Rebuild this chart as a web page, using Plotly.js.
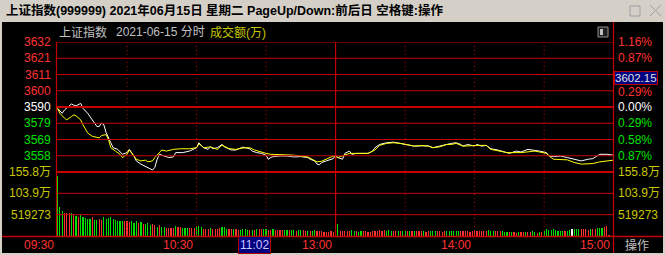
<!DOCTYPE html>
<html><head><meta charset="utf-8">
<script src="https://cdn.plot.ly/plotly-3.0.1.min.js"></script>
<style>html,body{margin:0;padding:0;background:#000;overflow:hidden}#c{width:665px;height:255px}</style>
</head><body><div id="c"></div><script>
// ---------- data ----------
const titleText = '上证指数(999999) 2021年06月15日 星期二 PageUp/Down:前后日 空格键:操作';
const indexName = '上证指数';
const dateLabel = '2021-06-15 分时';
const volTitle = '成交额(万)';
const prevClose = 3589.75;
const priceTop = 3632;
const priceTickLabels = ['3632','3621','3611','3600','3590','3579','3569','3558'];
const pctTickLabels = ['1.16%','0.87%','0.58%','0.29%','0.00%','0.29%','0.58%','0.87%'];
const volTickValues = [155.78, 103.85, 51.93];
const volTickLabels = ['155.8万','103.9万','519273'];
const timeLabels = ['09:30','10:30','13:00','14:00','15:00'];
const timeLabelMinutes = [0,60,120,180,240];
const cursorTimeLabel = '11:02';
const cursorMinute = 92;
const cursorPriceLabel = '3602.15';

// weighted index (white), minute index from 09:30 (afternoon continues after 120)
const priceMin = [0,2,3,6,7,8,10,11,13,14,16,17,18,19,20,21,23,24,26,27,28,30,31,33,34,36,37,38,40,41,
42,43,44,46,48,50,51,54,57,60,61,62,63,65,66,67,69,70,71,72,74,75,77,79,80,83,84,86,88,90,
91,92,93,96,99,102,105,108,109,111,112,113,114,116,119,120,121,123,124,126,127,129,132,134,136,137,139,142,145,148,
151,154,157,160,162,165,168,170,172,174,175,177,180,181,183,185,187,190,193,195,198,200,203,206,208,211,212,214,217,220,
223,226,229,231,234,237,240];
const priceVal = [3588.9,3585.7,3587.8,3591.7,3591.0,3590.4,3592.1,3588.9,3585.7,3583.5,
3579.3,3577.1,3577.1,3579.3,3578.2,3573.0,3566.5,3563.3,3562.2,3560.5,
3559.0,3560.1,3562.2,3557.9,3554.7,3552.6,3551.9,3551.1,3549.8,3548.8,
3550.5,3555.8,3559.0,3557.9,3556.9,3557.3,3560.1,3560.1,3561.1,3563.3,
3566.5,3564.8,3563.3,3562.2,3563.9,3562.6,3563.3,3564.3,3565.4,3563.9,
3562.2,3561.8,3561.8,3563.3,3563.7,3562.6,3561.1,3560.1,3559.6,3558.4,
3555.8,3556.9,3557.5,3557.9,3557.9,3557.3,3557.5,3556.9,3555.8,3554.7,
3552.6,3552.2,3553.7,3554.7,3556.2,3558.4,3556.9,3555.8,3559.6,3561.1,
3559.0,3559.6,3559.6,3559.6,3561.1,3563.3,3565.4,3566.5,3566.9,3566.1,
3565.4,3564.3,3564.5,3564.5,3563.3,3564.6,3565.4,3566.1,3566.5,3565.4,
3564.3,3565.4,3564.3,3565.4,3564.3,3564.8,3562.6,3561.8,3560.5,3559.6,
3561.1,3560.5,3562.2,3561.8,3561.1,3560.1,3557.9,3557.5,3557.9,3556.9,
3555.8,3554.7,3555.8,3556.2,3559.0,3559.0,3558.4];

// unweighted index (yellow)
const idxMin = [0,1,3,4,6,7,8,10,11,13,15,16,18,19,21,22,23,25,27,28,30,31,33,34,36,38,39,41,42,44,
45,47,50,53,57,60,61,62,63,66,69,71,74,77,80,83,85,90,92,96,102,108,112,114,119,121,124,126,129,134,
137,139,142,145,148,154,157,160,162,165,168,170,172,175,181,185,187,191,194,200,203,206,208,211,213,214,220,223,226,229,
231,234,237,240];
const idxVal = [3588.9,3585.7,3582.5,3581.4,3583.5,3584.6,3584.0,3581.4,3578.2,3572.9,
3570.7,3570.3,3569.7,3571.2,3571.8,3568.6,3563.3,3561.1,3559.0,3556.9,
3559.0,3561.8,3557.9,3555.8,3554.7,3555.2,3554.1,3554.7,3556.9,3560.1,
3561.8,3561.1,3562.2,3562.6,3562.6,3563.3,3565.8,3564.8,3563.3,3563.8,
3562.2,3565.0,3562.7,3562.2,3563.1,3563.3,3561.8,3559.6,3559.0,3558.8,
3558.4,3557.3,3554.1,3554.5,3557.9,3556.9,3558.4,3559.6,3559.6,3559.6,
3561.8,3564.8,3566.1,3566.5,3566.1,3564.3,3564.8,3564.3,3563.3,3563.9,
3565.4,3565.4,3566.1,3564.3,3564.8,3564.8,3562.2,3561.1,3560.1,3560.1,
3560.5,3561.1,3560.5,3559.6,3556.9,3555.8,3555.4,3553.7,3552.6,3553.0,
3553.0,3554.1,3554.7,3555.2];

// per-minute turnover (万), minutes 0..240
const volume = [146,71,62,57,57,57,56,51,49,47,
52,46,45,41,41,47,39,39,42,40,
47,42,45,47,42,40,37,36,36,37,
36,35,37,32,36,31,35,30,30,31,
27,29,27,23,28,23,21,19,19,19,
19,24,21,21,19,19,19,19,19,19,
23,24,21,16,16,16,19,16,16,16,
19,21,23,16,16,16,16,16,15,15,
16,16,15,15,15,15,16,16,16,16,
16,15,15,16,15,15,15,15,15,15,
15,15,15,13,15,15,15,13,13,13,
13,15,13,13,13,10,10,10,13,10,
10,29,12,12,12,12,12,15,12,12,
10,12,12,12,10,10,12,12,12,15,
13,15,12,15,12,12,12,12,12,12,
12,12,12,12,12,12,12,12,12,10,
12,12,12,12,12,12,10,12,12,12,
12,12,12,13,12,12,12,12,10,12,
12,12,12,12,12,12,15,12,12,12,
12,12,13,10.5,10.5,10.5,10.5,10.5,8,10.5,
10.5,10.5,10.5,10.5,10.5,13,10.5,8,10.5,10.5,
13,16,14.6,14.6,16,14.6,13,13,13,13,
13,14.6,16,16,16,16,16,16,16,14.6,
16,18,18,19.5,19.5,19.5,22.7,25,1.6,0,
47];
// minute move direction: 1 up, -1 down, 0 flat
const volDir = [-1,-1,-1,1,1,1,-1,1,-1,1,
-1,-1,-1,-1,-1,1,-1,-1,1,1,
-1,-1,-1,-1,-1,-1,-1,-1,-1,1,
1,1,-1,-1,-1,1,-1,1,-1,-1,
-1,1,1,-1,1,-1,-1,1,1,1,
1,-1,1,1,-1,-1,-1,1,1,1,
-1,-1,-1,1,1,1,-1,1,1,1,
1,-1,-1,-1,1,1,-1,1,1,-1,
-1,-1,-1,1,-1,1,-1,1,1,-1,
-1,1,1,-1,1,1,1,1,-1,-1,
1,-1,-1,1,-1,-1,1,1,-1,1,
-1,-1,1,1,1,1,1,1,1,1,
1,-1,1,1,1,1,1,-1,-1,1,
-1,-1,1,1,1,1,1,1,1,1,
1,1,-1,-1,-1,1,1,-1,1,-1,
-1,1,-1,1,-1,1,1,1,-1,1,
1,-1,-1,-1,1,1,1,1,-1,-1,
-1,-1,-1,-1,1,1,1,1,1,1,
1,1,1,1,1,1,-1,-1,-1,1,
1,1,-1,-1,-1,1,-1,1,1,-1,
1,1,-1,1,1,-1,-1,1,-1,1,
-1,-1,-1,-1,-1,-1,-1,-1,-1,1,
-1,-1,0,-1,-1,-1,1,1,1,1,
-1,1,1,-1,-1,-1,1,1,1,0,
0];

// ---------- styling / layout ----------
const W = 665, H = 255;
const px = v => v / W;
const py = v => 1 - v / H;
const RED = '#ff3232', GREEN = '#00e000', GRID = '#c80000', YEL = '#c8c800', GRAY = '#c0c0c0';
const FONT = 'Liberation Sans, Noto Sans CJK SC, sans-serif';
const step = (priceTop - prevClose) / 4;
const priceBottom = prevClose - 4 * step;
const volMax = volTickValues[0];
const minutes = volume.map((_, i) => i);
const barColors = volDir.map(d => d > 0 ? RED : (d < 0 ? GREEN : '#ffffff'));

const shapes = [];
const ann = [];
const hline = (yref, y, x0, x1, w, dash) => shapes.push({type:'line', xref:'paper', yref, x0:px(x0), x1:px(x1), y0:y, y1:y, line:{color:GRID, width:w, dash:dash||'solid'}});

// price grid
for (let k = 4; k >= -3; k--) {
  const lv = prevClose + k * step;
  hline('y', lv, 56, 613.5, k === 0 ? 2 : 1);
  const col = k > 0 ? RED : (k < 0 ? GREEN : '#ffffff');
  ann.push({xref:'paper', yref:'y', x:px(53), y:lv, xanchor:'right', yanchor:'middle', text:priceTickLabels[4-k], showarrow:false, font:{family:FONT, size:12, color:col}});
  // the right-hand 0.58% label is hidden under the cursor price box in the reference
  if (k !== 2) ann.push({xref:'paper', yref:'y', x:px(616), y:lv, xanchor:'left', yanchor:'middle', yshift:(k === 1 ? -1 : 0), text:pctTickLabels[4-k], showarrow:false, font:{family:FONT, size:12, color:col}});
}
// separator between price and volume
shapes.push({type:'line', xref:'paper', yref:'paper', x0:px(56), x1:px(613.5), y0:py(172), y1:py(172), line:{color:GRID, width:2}});
// volume grid
volTickValues.forEach((v, i) => {
  if (i > 0) hline('y2', v, 56, 613.5, 1);
  ann.push({xref:'paper', yref:'y2', x:px(53), y:v, xanchor:'right', yanchor:'middle', text:volTickLabels[i], showarrow:false, font:{family:FONT, size:12, color:YEL}});
  ann.push({xref:'paper', yref:'y2', x:px(616), y:v, xanchor:'left', yanchor:'middle', text:volTickLabels[i], showarrow:false, font:{family:FONT, size:12, color:YEL}});
});
// bottom line across whole width
shapes.push({type:'line', xref:'paper', yref:'paper', x0:0, x1:1, y0:py(236.5), y1:py(236.5), line:{color:GRID, width:1.5}});
// vertical time grid
[30,60,90,150,180,210].forEach(t => shapes.push({type:'line', xref:'x', yref:'paper', x0:t, x1:t, y0:py(42), y1:py(236), line:{color:GRID, width:1, dash:'1px,3px'}}));
shapes.push({type:'line', xref:'x', yref:'paper', x0:120, x1:120, y0:py(42), y1:py(236), line:{color:GRID, width:1.2}});
// borders
shapes.push({type:'line', xref:'paper', yref:'paper', x0:px(56.5), x1:px(56.5), y0:py(42), y1:py(236), line:{color:GRID, width:1.2}});
shapes.push({type:'line', xref:'paper', yref:'paper', x0:px(613.5), x1:px(613.5), y0:py(22), y1:py(253), line:{color:GRID, width:1.2}});
// window chrome
shapes.push({type:'rect', xref:'paper', yref:'paper', x0:0, x1:1, y0:py(22), y1:1, fillcolor:'#d4d0c8', line:{width:0}});
shapes.push({type:'rect', xref:'paper', yref:'paper', x0:0, x1:px(2), y0:0, y1:1, fillcolor:'#d4d0c8', line:{width:0}});
shapes.push({type:'rect', xref:'paper', yref:'paper', x0:px(663), x1:1, y0:0, y1:1, fillcolor:'#d4d0c8', line:{width:0}});
shapes.push({type:'rect', xref:'paper', yref:'paper', x0:0, x1:1, y0:0, y1:py(253), fillcolor:'#d4d0c8', line:{width:0}});
shapes.push({type:'rect', xref:'paper', yref:'paper', x0:px(630), x1:px(640), y0:py(16), y1:py(6), fillcolor:'rgba(0,0,0,0)', line:{color:'#a0a0a0', width:1}});
shapes.push({type:'line', xref:'paper', yref:'paper', x0:px(650), x1:px(661), y0:py(5), y1:py(16), line:{color:'#a0a0a0', width:1}});
shapes.push({type:'line', xref:'paper', yref:'paper', x0:px(650), x1:px(661), y0:py(16), y1:py(5), line:{color:'#a0a0a0', width:1}});
// small header icon
shapes.push({type:'rect', xref:'paper', yref:'paper', x0:px(598), x1:px(608), y0:py(37), y1:py(27), fillcolor:'#202020', line:{color:'#909090', width:1}});
shapes.push({type:'rect', xref:'paper', yref:'paper', x0:px(600), x1:px(603), y0:py(35), y1:py(29), fillcolor:'#c0c0c0', line:{width:0}});

// texts
ann.push({xref:'paper', yref:'paper', x:px(4), y:py(11), xanchor:'left', yanchor:'middle', text:'<b>'+titleText+'</b>', showarrow:false, font:{family:FONT, size:12.5, color:'#000000'}});
ann.push({xref:'paper', yref:'paper', x:px(57), y:py(32), xanchor:'left', yanchor:'middle', text:indexName, showarrow:false, font:{family:FONT, size:12, color:GRAY}});
ann.push({xref:'paper', yref:'paper', x:px(114), y:py(32), xanchor:'left', yanchor:'middle', text:dateLabel, showarrow:false, font:{family:FONT, size:12, color:GRAY}});
ann.push({xref:'paper', yref:'paper', x:px(208), y:py(32), xanchor:'left', yanchor:'middle', text:volTitle, showarrow:false, font:{family:FONT, size:12, color:YEL}});
timeLabels.forEach((s, i) => ann.push({xref:'x', yref:'paper', x:timeLabelMinutes[i], y:py(245), xanchor:'right', yanchor:'middle', xshift:-2, text:s, showarrow:false, font:{family:FONT, size:12, color:RED}}));
ann.push({xref:'x', yref:'paper', x:cursorMinute, y:py(245), xanchor:'right', yanchor:'middle', text:cursorTimeLabel, showarrow:false, bgcolor:'#000080', bordercolor:'#b00000', borderwidth:1, borderpad:1, font:{family:FONT, size:12, color:'#c8c8ff'}});
ann.push({xref:'paper', yref:'paper', x:px(614), y:py(77.5), xanchor:'left', yanchor:'middle', text:cursorPriceLabel, showarrow:false, bgcolor:'#000080', bordercolor:'#c00000', borderwidth:1, borderpad:0, font:{family:FONT, size:11.5, color:'#e0e0e0'}});
ann.push({xref:'paper', yref:'paper', x:px(623), y:py(245), xanchor:'left', yanchor:'middle', text:'操作', showarrow:false, font:{family:FONT, size:12, color:GRAY}});

const traces = [
  {type:'bar', x:minutes, y:volume, xaxis:'x', yaxis:'y2', width:0.5, marker:{color:barColors, line:{width:0}}, hoverinfo:'skip'},
  {type:'scatter', mode:'lines', x:priceMin, y:priceVal, xaxis:'x', yaxis:'y', line:{color:'#ffffff', width:1}, hoverinfo:'skip'},
  {type:'scatter', mode:'lines', x:idxMin, y:idxVal, xaxis:'x', yaxis:'y', line:{color:'#ffff00', width:1}, hoverinfo:'skip'}
];
const hidden = {showgrid:false, zeroline:false, showticklabels:false, showline:false, ticks:'', fixedrange:true};
const layout = {
  width:W, height:H, margin:{l:0, r:0, t:0, b:0, pad:0},
  paper_bgcolor:'#000000', plot_bgcolor:'rgba(0,0,0,0)',
  showlegend:false, hovermode:false, bargap:0,
  xaxis:Object.assign({domain:[px(56), px(614)], range:[-0.65, 240.15]}, hidden),
  yaxis:Object.assign({domain:[py(172), py(42)], range:[priceBottom, priceTop]}, hidden),
  yaxis2:Object.assign({domain:[py(236), py(172)], range:[0, volMax]}, hidden),
  shapes:shapes, annotations:ann
};
Plotly.newPlot('c', traces, layout, {staticPlot:true, displayModeBar:false});
</script></body></html>
